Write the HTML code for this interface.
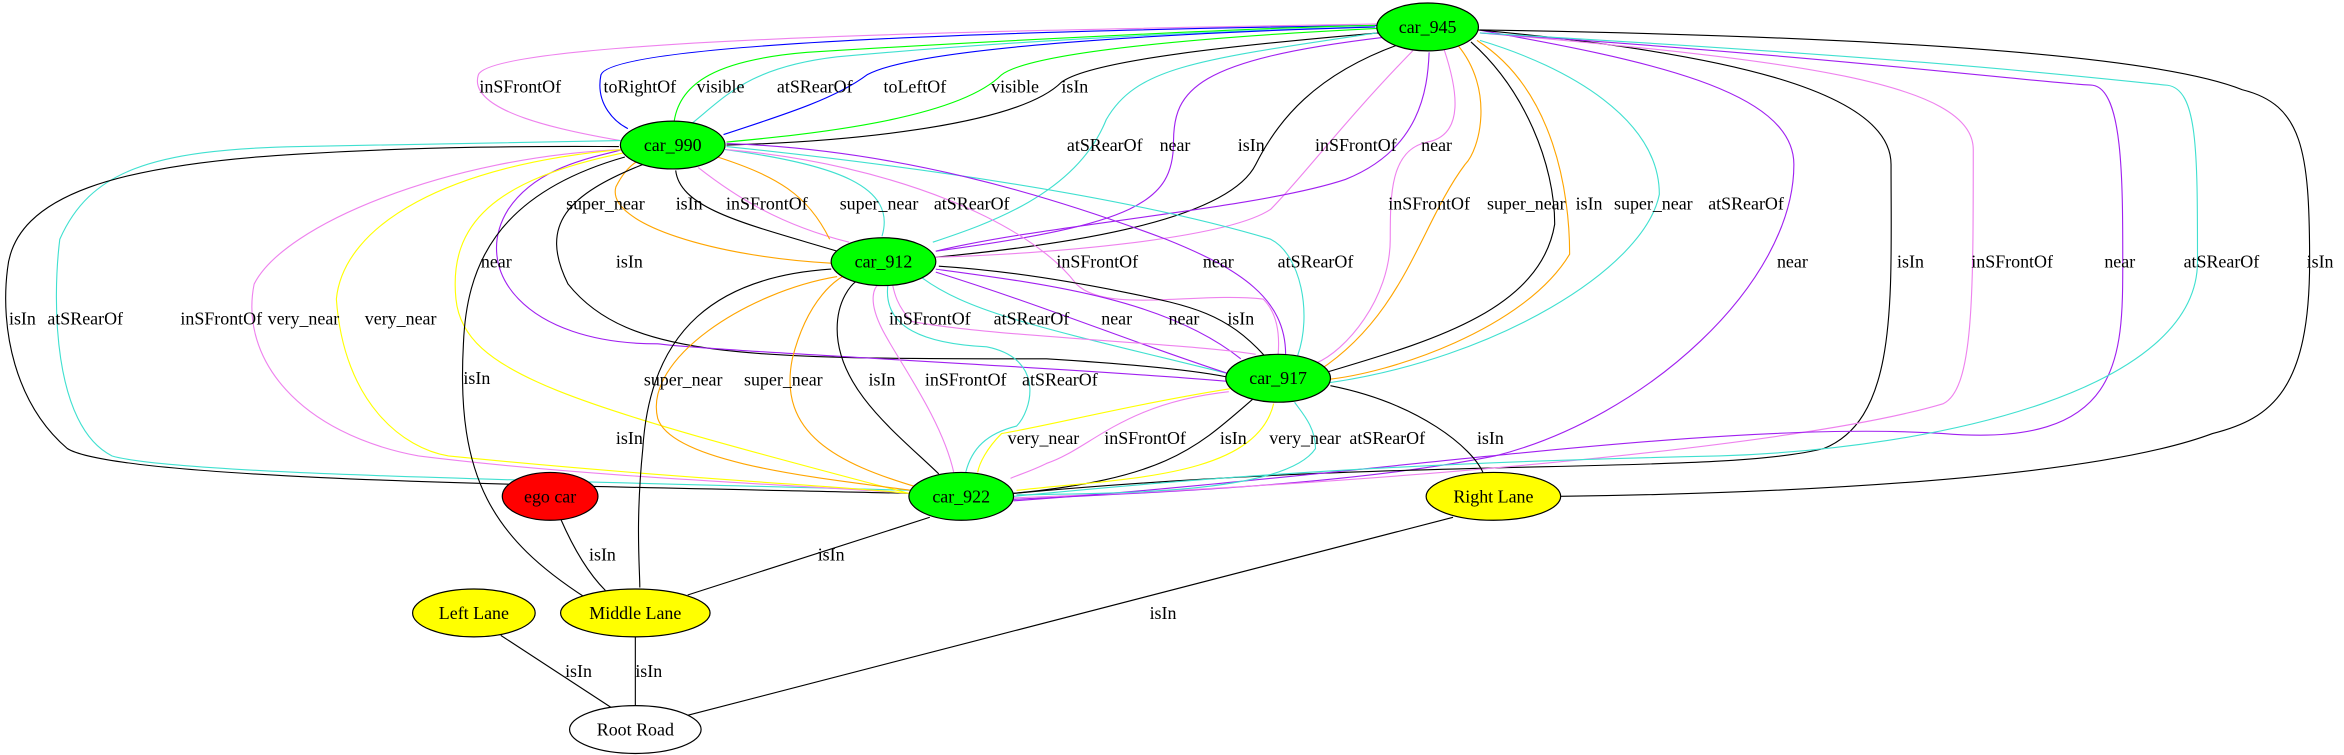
<!DOCTYPE html>
<html><head><meta charset="utf-8"><style>
html,body{margin:0;padding:0;background:#fff;width:2344px;height:755px;overflow:hidden}
svg{display:block}
text{font-family:"Liberation Serif",serif;font-size:12px;fill:#000}
path{fill:none;stroke-width:0.75}
</style></head><body>
<svg width="2344" height="755" viewBox="0 0 1568 505" xmlns="http://www.w3.org/2000/svg">
<defs>
<marker id="k" markerWidth="8" markerHeight="6" refX="7" refY="3" orient="auto" markerUnits="userSpaceOnUse"><path d="M0,0 L7,3 L0,6z" fill="#000" stroke="none"/></marker>
<marker id="v" markerWidth="8" markerHeight="6" refX="7" refY="3" orient="auto" markerUnits="userSpaceOnUse"><path d="M0,0 L7,3 L0,6z" fill="#ee82ee" stroke="none"/></marker>
<marker id="b" markerWidth="8" markerHeight="6" refX="7" refY="3" orient="auto" markerUnits="userSpaceOnUse"><path d="M0,0 L7,3 L0,6z" fill="#0000ff" stroke="none"/></marker>
<marker id="g" markerWidth="8" markerHeight="6" refX="7" refY="3" orient="auto" markerUnits="userSpaceOnUse"><path d="M0,0 L7,3 L0,6z" fill="#00ff00" stroke="none"/></marker>
<marker id="t" markerWidth="8" markerHeight="6" refX="7" refY="3" orient="auto" markerUnits="userSpaceOnUse"><path d="M0,0 L7,3 L0,6z" fill="#40e0d0" stroke="none"/></marker>
<marker id="p" markerWidth="8" markerHeight="6" refX="7" refY="3" orient="auto" markerUnits="userSpaceOnUse"><path d="M0,0 L7,3 L0,6z" fill="#a020f0" stroke="none"/></marker>
<marker id="o" markerWidth="8" markerHeight="6" refX="7" refY="3" orient="auto" markerUnits="userSpaceOnUse"><path d="M0,0 L7,3 L0,6z" fill="#ffa500" stroke="none"/></marker>
<marker id="y" markerWidth="8" markerHeight="6" refX="7" refY="3" orient="auto" markerUnits="userSpaceOnUse"><path d="M0,0 L7,3 L0,6z" fill="#ffff00" stroke="none"/></marker>
</defs>

<path stroke="#ee82ee" marker-end="url(#v)" d="M921,16 C700,20 330,25 320,50 C312,75 380,88 415,94"/>
<path stroke="#0000ff" marker-end="url(#b)" d="M921,17 C700,20 410,28 402,50 C398,70 412,82 420,86"/>
<path stroke="#00ff00" marker-end="url(#g)" d="M451,81 C455,55 480,40 540,35 C650,28 850,18 920,17"/>
<path stroke="#40e0d0" marker-end="url(#t)" d="M461,84 C485,65 500,45 560,38 C700,25 860,19 920,18"/>
<path stroke="#0000ff" marker-end="url(#b)" d="M484,90 C530,75 560,65 580,50 C620,28 850,20 920,18"/>
<path stroke="#00ff00" marker-end="url(#g)" d="M921,19 C800,25 690,35 670,50 C640,80 540,90 486,95"/>
<path stroke="#000" marker-end="url(#k)" d="M922,22 C830,30 730,40 710,55 C680,85 560,95 486,97"/>

<path stroke="#40e0d0" marker-end="url(#t)" d="M921,22 C800,40 760,45 740,80 C720,130 660,150 624,162"/>
<path stroke="#a020f0" marker-end="url(#p)" d="M925,25 C800,40 785,60 785,95 C785,135 760,150 626,168"/>
<path stroke="#000" marker-end="url(#k)" d="M935,30 C880,50 855,80 840,110 C820,150 700,165 626,172"/>
<path stroke="#ee82ee" marker-end="url(#v)" d="M945,34 C900,80 870,120 850,140 C820,160 700,170 626,172"/>
<path stroke="#a020f0" marker-end="url(#p)" d="M626,168 C700,150 840,140 900,120 C950,100 955,60 956,35"/>

<path stroke="#ee82ee" marker-end="url(#v)" d="M966,33 C975,60 980,90 955,95 C930,100 930,130 930,160 C930,200 900,235 880,243"/>
<path stroke="#ffa500" marker-end="url(#o)" d="M975,30 C1000,60 990,100 980,110 C950,150 940,210 882,248"/>
<path stroke="#000" marker-end="url(#k)" d="M984,28 C1020,60 1040,110 1040,150 C1030,210 950,230 884,250"/>
<path stroke="#ffa500" marker-end="url(#o)" d="M988,27 C1040,60 1050,130 1050,170 C1020,220 930,250 886,254"/>
<path stroke="#40e0d0" marker-end="url(#t)" d="M889,256 C1000,240 1100,180 1110,130 C1110,80 1050,45 990,27"/>

<path stroke="#a020f0" marker-end="url(#p)" d="M989,20 C1100,40 1200,60 1200,110 C1200,190 1100,280 1000,305 C900,325 760,330 678,334"/>
<path stroke="#000" marker-end="url(#k)" d="M989,20 C1150,35 1265,60 1265,110 C1265,200 1270,280 1220,300 C1150,318 950,305 678,330"/>
<path stroke="#ee82ee" marker-end="url(#v)" d="M990,22 C1200,40 1320,55 1320,100 C1320,200 1320,260 1300,270 C1200,300 900,325 678,333"/>
<path stroke="#a020f0" marker-end="url(#p)" d="M990,22 C1250,40 1360,55 1400,57 C1420,60 1420,120 1420,175 C1420,240 1420,300 1300,290 C1150,280 900,320 678,335"/>
<path stroke="#40e0d0" marker-end="url(#t)" d="M990,22 C1300,40 1380,50 1450,57 C1470,60 1470,100 1470,175 C1470,260 1300,300 1150,305 C900,310 750,325 678,332"/>
<path stroke="#000" marker-end="url(#k)" d="M990,20 C1300,25 1450,40 1500,60 C1540,70 1545,100 1545,175 C1545,260 1520,280 1480,290 C1400,320 1200,330 1044,332"/>

<path stroke="#ffa500" marker-end="url(#o)" d="M556,176 C480,172 405,150 412,125 C418,113 425,108 430,106"/>
<path stroke="#000" marker-end="url(#k)" d="M560,168 C500,150 455,140 452,114"/>
<path stroke="#ee82ee" marker-end="url(#v)" d="M568,162 C520,150 490,130 467,112"/>
<path stroke="#ffa500" marker-end="url(#o)" d="M480,105 C520,118 540,130 555,160"/>
<path stroke="#40e0d0" marker-end="url(#t)" d="M485,100 C560,110 600,125 590,158"/>

<path stroke="#40e0d0" marker-end="url(#t)" d="M486,98 C600,110 750,130 850,160 C870,170 878,210 868,238"/>
<path stroke="#a020f0" marker-end="url(#p)" d="M486,96 C600,100 700,130 780,160 C830,180 860,200 860,237"/>
<path stroke="#ee82ee" marker-end="url(#v)" d="M486,100 C600,110 690,150 720,190 C740,210 800,195 845,200 C855,210 856,225 855,237"/>
<path stroke="#000" marker-end="url(#k)" d="M430,110 C380,130 360,150 380,190 C420,240 500,240 700,240 C780,245 810,250 820,252"/>
<path stroke="#a020f0" marker-end="url(#p)" d="M820,255 C700,245 480,235 440,230 C350,230 315,180 340,140 C360,110 400,105 416,100"/>

<path stroke="#40e0d0" marker-end="url(#t)" d="M609,328 C400,322 120,318 75,305 C35,285 35,200 40,160 C60,115 100,100 200,98 C300,96 380,95 415,94"/>
<path stroke="#000" marker-end="url(#k)" d="M609,330 C400,325 80,322 45,300 C10,270 0,220 5,180 C10,130 80,110 200,103 C300,97 380,98 414,98"/>
<path stroke="#ee82ee" marker-end="url(#v)" d="M416,100 C300,105 190,150 170,190 C160,240 200,290 280,305 C400,320 550,325 608,330"/>
<path stroke="#ffff00" marker-end="url(#y)" d="M416,100 C300,110 230,150 225,200 C230,270 270,300 300,305 C450,320 560,325 608,330"/>
<path stroke="#ffff00" marker-end="url(#y)" d="M418,102 C330,120 300,150 305,200 C310,250 380,270 608,330"/>

<path stroke="#40e0d0" marker-end="url(#t)" d="M617,186 C650,210 700,220 822,250"/>
<path stroke="#a020f0" marker-end="url(#p)" d="M822,250 C760,230 700,205 626,182"/>
<path stroke="#a020f0" marker-end="url(#p)" d="M626,180 C700,190 780,200 830,240"/>
<path stroke="#000" marker-end="url(#k)" d="M846,238 C820,210 800,205 750,195 C700,185 660,180 628,178"/>
<path stroke="#ee82ee" marker-end="url(#v)" d="M840,237 C800,230 660,225 610,215 C600,205 598,195 597,190"/>

<path stroke="#000" marker-end="url(#k)" d="M556,180 C480,185 435,220 430,300 C425,350 428,380 428,393"/>
<path stroke="#ffa500" marker-end="url(#o)" d="M560,185 C500,195 430,240 440,280 C450,310 550,320 610,328"/>
<path stroke="#ffa500" marker-end="url(#o)" d="M614,326 C560,310 520,290 530,240 C540,200 560,185 570,182"/>
<path stroke="#000" marker-end="url(#k)" d="M628,317 C600,290 560,260 560,220 C560,200 570,190 573,188"/>
<path stroke="#ee82ee" marker-end="url(#v)" d="M638,316 C630,280 600,240 590,220 C580,200 585,192 588,190"/>
<path stroke="#40e0d0" marker-end="url(#t)" d="M594,190 C590,220 620,230 660,232 C700,240 690,275 680,285 C660,290 650,300 646,316"/>

<path stroke="#ffff00" marker-end="url(#y)" d="M823,260 C760,270 700,285 670,290 C660,300 655,310 654,316"/>
<path stroke="#ee82ee" marker-end="url(#v)" d="M822,262 C750,270 730,300 700,310 C690,315 680,318 676,320"/>
<path stroke="#000" marker-end="url(#k)" d="M838,267 C800,300 780,320 678,330"/>
<path stroke="#ffff00" marker-end="url(#y)" d="M680,328 C750,320 840,320 852,270"/>
<path stroke="#40e0d0" marker-end="url(#t)" d="M680,331 C750,330 860,330 880,300 C880,285 870,275 866,269"/>
<path stroke="#000" marker-end="url(#k)" d="M890,258 C950,270 985,300 992,316"/>

<path stroke="#000" marker-end="url(#k)" d="M418,105 C330,130 312,180 310,230 C305,320 330,360 392,400"/>
<path stroke="#000" marker-end="url(#k)" d="M375,347 C385,370 395,385 405,395"/>
<path stroke="#000" marker-end="url(#k)" d="M622,346 L460,398"/>
<path stroke="#000" marker-end="url(#k)" d="M335,425 L410,474"/>
<path stroke="#000" marker-end="url(#k)" d="M425,426 L425,472"/>
<path stroke="#000" marker-end="url(#k)" d="M972,346 L458,479"/>

<g stroke="#000" stroke-width="0.8">
<ellipse cx="955" cy="18" rx="34" ry="16" fill="#00ff00"/>
<ellipse cx="450" cy="97" rx="35" ry="16" fill="#00ff00"/>
<ellipse cx="591" cy="175" rx="35" ry="16" fill="#00ff00"/>
<ellipse cx="855" cy="253" rx="35" ry="16" fill="#00ff00"/>
<ellipse cx="643" cy="332" rx="35" ry="16" fill="#00ff00"/>
<ellipse cx="368" cy="332" rx="32" ry="16" fill="#ff0000"/>
<ellipse cx="425" cy="410" rx="50" ry="16" fill="#ffff00"/>
<ellipse cx="317" cy="410" rx="41" ry="16" fill="#ffff00"/>
<ellipse cx="425" cy="488" rx="44" ry="16" fill="#ffffff"/>
<ellipse cx="999" cy="332" rx="45" ry="16" fill="#ffff00"/>
</g>
<g text-anchor="middle" dominant-baseline="central">
<text x="955" y="18">car_945</text>
<text x="450" y="97">car_990</text>
<text x="591" y="175">car_912</text>
<text x="855" y="253">car_917</text>
<text x="643" y="332">car_922</text>
<text x="368" y="332">ego car</text>
<text x="425" y="410">Middle Lane</text>
<text x="317" y="410">Left Lane</text>
<text x="425" y="488">Root Road</text>
<text x="999" y="332">Right Lane</text>

<text x="348" y="58">inSFrontOf</text><text x="428" y="58">toRightOf</text><text x="482" y="58">visible</text>
<text x="545" y="58">atSRearOf</text><text x="612" y="58">toLeftOf</text><text x="679" y="58">visible</text><text x="719" y="58">isIn</text>

<text x="739" y="97">atSRearOf</text><text x="786" y="97">near</text><text x="837" y="97">isIn</text><text x="907" y="97">inSFrontOf</text><text x="961" y="97">near</text>

<text x="405" y="136">super_near</text><text x="461" y="136">isIn</text><text x="513" y="136">inSFrontOf</text><text x="588" y="136">super_near</text><text x="650" y="136">atSRearOf</text>
<text x="956" y="136">inSFrontOf</text><text x="1021" y="136">super_near</text><text x="1063" y="136">isIn</text><text x="1106" y="136">super_near</text><text x="1168" y="136">atSRearOf</text>

<text x="332" y="175">near</text><text x="421" y="175">isIn</text><text x="734" y="175">inSFrontOf</text><text x="815" y="175">near</text><text x="880" y="175">atSRearOf</text>
<text x="1199" y="175">near</text><text x="1278" y="175">isIn</text><text x="1346" y="175">inSFrontOf</text><text x="1418" y="175">near</text><text x="1486" y="175">atSRearOf</text><text x="1552" y="175">isIn</text>

<text x="15" y="213">isIn</text><text x="57" y="213">atSRearOf</text><text x="148" y="213">inSFrontOf</text><text x="203" y="213">very_near</text><text x="268" y="213">very_near</text>
<text x="622" y="213">inSFrontOf</text><text x="690" y="213">atSRearOf</text><text x="747" y="213">near</text><text x="792" y="213">near</text><text x="830" y="213">isIn</text>

<text x="319" y="253">isIn</text><text x="457" y="254">super_near</text><text x="524" y="254">super_near</text><text x="590" y="254">isIn</text><text x="646" y="254">inSFrontOf</text><text x="709" y="254">atSRearOf</text>

<text x="421" y="293">isIn</text><text x="698" y="293">very_near</text><text x="766" y="293">inSFrontOf</text><text x="825" y="293">isIn</text><text x="873" y="293">very_near</text><text x="928" y="293">atSRearOf</text><text x="997" y="293">isIn</text>

<text x="403" y="371">isIn</text><text x="556" y="371">isIn</text><text x="778" y="410">isIn</text><text x="387" y="449">isIn</text><text x="434" y="449">isIn</text>
</g>
</svg>
</body></html>
